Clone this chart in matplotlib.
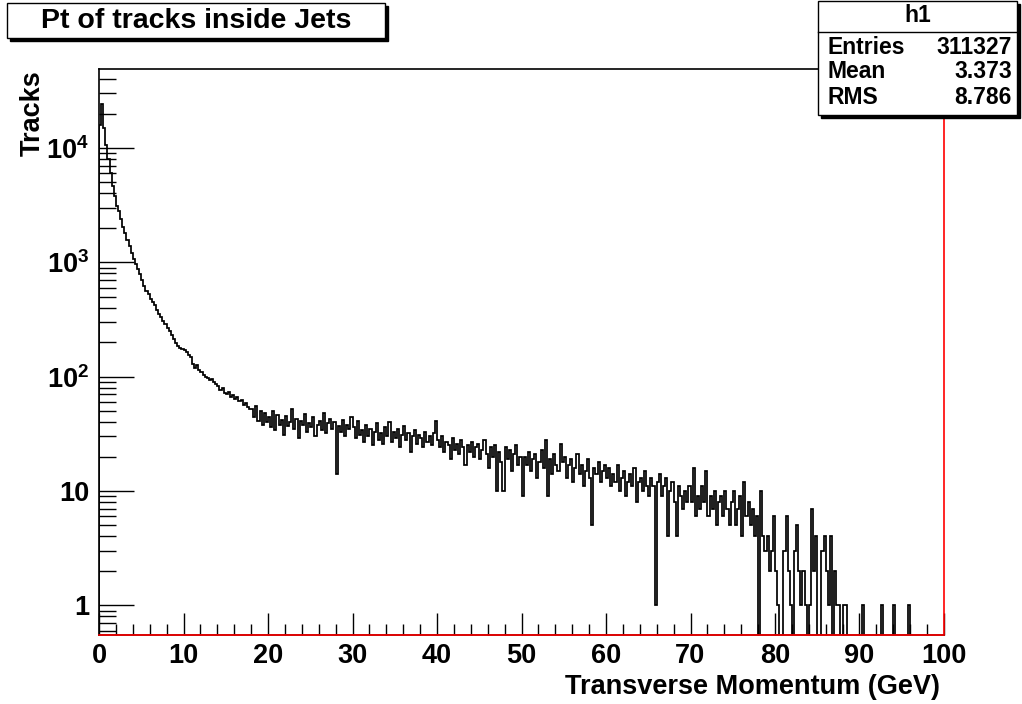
import matplotlib
matplotlib.use("Agg")
import matplotlib.pyplot as plt
import numpy as np
from matplotlib.patches import Rectangle
from matplotlib.lines import Line2D
from matplotlib.ticker import FixedLocator, FixedFormatter, LogLocator, MultipleLocator, NullFormatter

plt.rcParams["font.family"] = ["Liberation Sans", "DejaVu Sans"]
plt.rcParams["font.weight"] = "bold"
plt.rcParams["mathtext.fontset"] = "custom"
plt.rcParams["mathtext.rm"] = "Liberation Sans:bold"
plt.rcParams["mathtext.bf"] = "Liberation Sans:bold"
plt.rcParams["mathtext.it"] = "Liberation Sans:bold"

# histogram contents, 0.25 GeV bins, one list per 10 GeV
counts_00_10 = [16000, 24000, 15000, 10500, 8000, 6000, 4600, 3800,
                3100, 2800, 2400, 2050, 1800, 1560, 1380, 1200,
                1060, 960, 870, 790, 700, 620, 560, 525,
                480, 450, 420, 380, 355, 330, 305, 290,
                268, 252, 230, 215, 196, 185, 178, 175]
counts_10_20 = [170, 165, 155, 148, 128, 118, 127, 115,
                110, 104, 100, 97, 94, 96, 90, 86,
                82, 76, 79, 72, 70, 74, 67, 69,
                64, 66, 61, 63, 57, 59, 54, 52,
                52, 44, 55, 41, 50, 38, 48, 40]
counts_20_30 = [44, 36, 50, 34, 46, 38, 42, 31,
                45, 37, 40, 52, 35, 43, 29, 41,
                38, 47, 33, 39, 36, 44, 30, 38,
                41, 34, 48, 32, 39, 43, 35, 40,
                14, 37, 33, 42, 30, 38, 35, 44]
counts_30_40 = [36, 29, 41, 31, 34, 27, 38, 30,
                35, 25, 33, 39, 28, 32, 26, 36,
                30, 40, 27, 33, 29, 35, 24, 31,
                37, 28, 32, 22, 30, 34, 26, 31,
                29, 24, 33, 27, 30, 25, 32, 41]
counts_40_50 = [28, 24, 30, 22, 27, 25, 19, 29,
                23, 26, 21, 28, 24, 17, 25, 22,
                27, 20, 24, 26, 19, 23, 28, 21,
                16, 24, 20, 25, 10, 22, 18, 10,
                24, 19, 23, 15, 21, 25, 17, 20]
counts_50_60 = [9, 20, 17, 22, 15, 19, 21, 13,
                18, 23, 16, 28, 9, 19, 14, 21,
                17, 15, 26, 18, 20, 13, 17, 19,
                12, 16, 21, 14, 17, 11, 15, 19,
                13, 5, 16, 14, 18, 12, 15, 17]
counts_60_70 = [13, 16, 11, 14, 12, 17, 10, 13,
                15, 9, 12, 14, 11, 16, 8, 12,
                13, 10, 15, 11, 9, 13, 11, 1,
                12, 14, 9, 11, 13, 4, 10, 12,
                8, 4, 11, 9, 7, 10, 8, 11]
counts_70_80 = [8, 16, 6, 9, 7, 11, 8, 15,
                6, 9, 7, 10, 5, 8, 9, 6,
                10, 7, 5, 8, 10, 5, 7, 9,
                4, 12, 6, 8, 5, 7, 4, 6,
                0, 10, 4, 3, 4, 2, 3, 6]
counts_80_90 = [2, 1, 0, 0, 3, 6, 2, 1,
                0, 3, 5, 2, 1, 2, 1, 0,
                1, 7, 2, 4, 0, 0, 3, 4,
                2, 1, 4, 0, 2, 1, 1, 0,
                1, 1, 0, 0, 0, 0, 0, 0]
counts_90_100 = [0, 1, 0, 0, 0, 0, 0, 0,
                 0, 0, 1, 0, 0, 0, 0, 0,
                 1, 0, 0, 0, 0, 0, 0, 1,
                 0, 0, 0, 0, 0, 0, 0, 0,
                 0, 0, 0, 0, 0, 0, 0, 0]

x_range = (0, 100)
y_range = (0.55, 49000)
y_tick_values = [1, 10, 100, 1000, 10000]
y_tick_labels = ["1", "10", r"$10^{2}$", r"$10^{3}$", r"$10^{4}$"]

hist_name = "h1"
stat_names = ["Entries", "Mean", "RMS"]
stat_values = ["311327", "3.373", "8.786"]

title = "Pt of tracks inside Jets"
x_title = "Transverse Momentum (GeV)"
y_title = "Tracks"

counts = np.array(counts_00_10 + counts_10_20 + counts_20_30 + counts_30_40 + counts_40_50
                  + counts_50_60 + counts_60_70 + counts_70_80 + counts_80_90 + counts_90_100,
                  dtype=float)
edges = np.linspace(x_range[0], x_range[1], len(counts) + 1)

W, H = 1022, 704
fig = plt.figure(figsize=(W / 100, H / 100), dpi=100)
fig.patch.set_facecolor("white")


def fx(x):
    return x / W


def fy(y):
    return 1 - y / H


ax = fig.add_axes([fx(99), fy(635), fx(944) - fx(99), fy(69) - fy(635)])
ax.set_yscale("log")

# empty bins drop below the frame like ROOT does on a log axis
floor = y_range[0] / 10
ax.stairs(np.clip(counts, floor, None), edges, baseline=floor, color="black", lw=1.25)

ax.set_xlim(*x_range)
ax.set_ylim(*y_range)

ax.xaxis.set_major_locator(MultipleLocator(10))
ax.xaxis.set_minor_locator(MultipleLocator(2))
ax.yaxis.set_major_locator(FixedLocator(y_tick_values))
ax.yaxis.set_major_formatter(FixedFormatter(y_tick_labels))
ax.yaxis.set_minor_locator(LogLocator(base=10, subs=np.arange(2, 10), numticks=20))
ax.yaxis.set_minor_formatter(NullFormatter())

ax.tick_params(axis="both", which="both", direction="in", top=False, right=False, width=1)
ax.tick_params(axis="x", which="major", length=16, labelsize=19.5, pad=6)
ax.tick_params(axis="x", which="minor", length=8)
ax.tick_params(axis="y", which="major", length=25, labelsize=19.5, pad=7)
ax.tick_params(axis="y", which="minor", length=12)

for s in ax.spines.values():
    s.set_linewidth(1.2)
ax.spines["right"].set_color("red")
ax.add_line(Line2D([0, 1], [0, 0], transform=ax.transAxes, color="red", lw=1.2,
                   clip_on=False, zorder=5))

fig.text(fx(940), fy(687), x_title, ha="right", va="center", fontsize=19.5, weight="bold")
fig.text(fx(33), fy(113), y_title, ha="center", va="center", rotation=90,
         fontsize=19.5, weight="bold")

# title box with shadow
tx0, ty0, tx1, ty1 = 7, 3, 385, 38
fig.add_artist(Rectangle((fx(tx0 + 3), fy(ty1 + 3)), fx(tx1 - tx0), fy(ty0) - fy(ty1),
                         transform=fig.transFigure, facecolor="black", edgecolor="black"))
fig.add_artist(Rectangle((fx(tx0), fy(ty1)), fx(tx1 - tx0), fy(ty0) - fy(ty1),
                         transform=fig.transFigure, facecolor="white", edgecolor="black", lw=1))
fig.text(fx((tx0 + tx1) / 2), fy(21), title, ha="center", va="center", fontsize=20.5, weight="bold")

# stats box
sx0, sy0, sx1, sy1 = 818, 1, 1017, 115
fig.add_artist(Rectangle((fx(sx0 + 3), fy(sy1 + 3)), fx(sx1 - sx0), fy(sy0) - fy(sy1),
                         transform=fig.transFigure, facecolor="black", edgecolor="black"))
fig.add_artist(Rectangle((fx(sx0), fy(sy1)), fx(sx1 - sx0), fy(sy0) - fy(sy1),
                         transform=fig.transFigure, facecolor="white", edgecolor="black", lw=1))
fig.add_artist(Line2D([fx(sx0), fx(sx1)], [fy(32), fy(32)], transform=fig.transFigure,
                      color="black", lw=1))
fig.text(fx((sx0 + sx1) / 2), fy(16), hist_name, ha="center", va="center", fontsize=16.5, weight="bold")
for i, (name, val) in enumerate(zip(stat_names, stat_values)):
    yy = 47 + i * 25
    fig.text(fx(sx0 + 9), fy(yy), name, ha="left", va="center", fontsize=16.5, weight="bold")
    fig.text(fx(sx1 - 5), fy(yy), val, ha="right", va="center", fontsize=16.5, weight="bold")

fig.savefig("out.png", dpi=100)
